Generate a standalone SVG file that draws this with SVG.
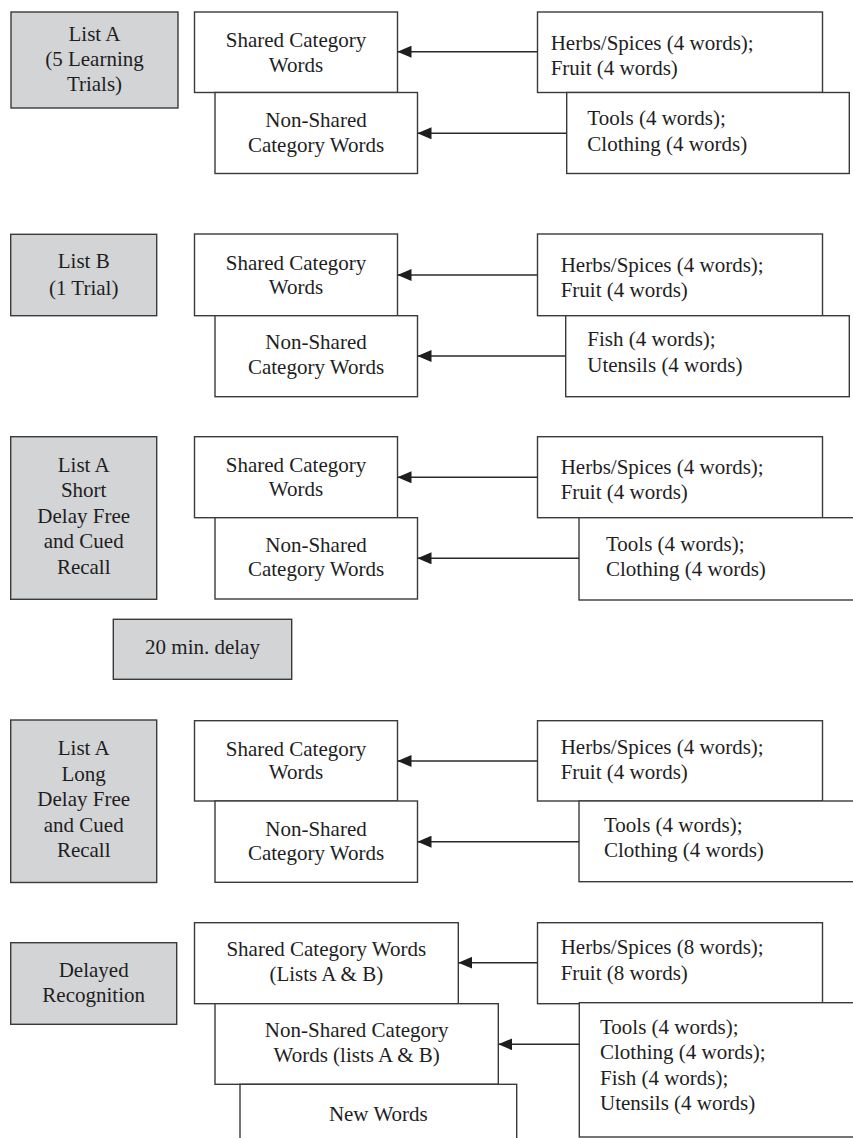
<svg xmlns="http://www.w3.org/2000/svg" width="853" height="1138" viewBox="0 0 853 1138">
<style>
.bx{fill:#ffffff;stroke:#3a3a3a;stroke-width:1.4}
.gx{fill:#d3d4d6;stroke:#3a3a3a;stroke-width:1.4}
text{font-family:"Liberation Serif","Times New Roman",serif;font-size:21px;fill:#1e1e1e}
.c{text-anchor:middle}
.ar{stroke:#2a2a2a;stroke-width:1.5;fill:none;marker-end:url(#ah)}
</style>
<defs>
<marker id="ah" viewBox="0 0 14 12" refX="14" refY="6" markerWidth="14" markerHeight="12" markerUnits="userSpaceOnUse" orient="auto">
<path d="M0,0 L14,6 L0,12 z" fill="#1e1e1e"/>
</marker>
</defs>
<rect width="853" height="1138" fill="#ffffff"/>

<!-- Row 1 -->
<g id="listA">
<rect class="gx" x="11" y="12" width="167" height="96"/>
<text class="c" x="94.5" y="41">List A</text>
<text class="c" x="94.5" y="66">(5 Learning</text>
<text class="c" x="94.5" y="91">Trials)</text>
</g>
<g id="r1-shared">
<rect class="bx" x="194.5" y="12" width="203" height="80.5"/>
<text class="c" x="296" y="47">Shared Category</text>
<text class="c" x="296" y="72">Words</text>
</g>
<g id="r1-nonshared">
<rect class="bx" x="215" y="92.5" width="202.5" height="81"/>
<text class="c" x="316" y="127">Non-Shared</text>
<text class="c" x="316" y="152">Category Words</text>
</g>
<g id="r1-herbs">
<rect class="bx" x="537.5" y="12" width="285" height="80.5"/>
<text x="550.7" y="50">Herbs/Spices (4 words);</text>
<text x="550.7" y="75">Fruit (4 words)</text>
</g>
<g id="r1-tools">
<rect class="bx" x="566.7" y="92.5" width="282.6" height="81"/>
<text x="587.3" y="125">Tools (4 words);</text>
<text x="587.3" y="150.5">Clothing (4 words)</text>
</g>

<!-- Row 2 -->
<g id="listB">
<rect class="gx" x="10.7" y="234.3" width="146" height="81.4"/>
<text class="c" x="83.7" y="268.3">List B</text>
<text class="c" x="83.7" y="294.5">(1 Trial)</text>
</g>
<g id="r2-shared">
<rect class="bx" x="194.5" y="234" width="203" height="81.7"/>
<text class="c" x="296" y="270">Shared Category</text>
<text class="c" x="296" y="294">Words</text>
</g>
<g id="r2-nonshared">
<rect class="bx" x="215" y="315.7" width="202.5" height="81"/>
<text class="c" x="316" y="349">Non-Shared</text>
<text class="c" x="316" y="373.5">Category Words</text>
</g>
<g id="r2-herbs">
<rect class="bx" x="537.5" y="234" width="285" height="81.7"/>
<text x="560.7" y="271.5">Herbs/Spices (4 words);</text>
<text x="560.7" y="296.5">Fruit (4 words)</text>
</g>
<g id="r2-fish">
<rect class="bx" x="565.7" y="315.7" width="283.6" height="81"/>
<text x="587.3" y="345.5">Fish (4 words);</text>
<text x="587.3" y="371.5">Utensils (4 words)</text>
</g>

<!-- Row 3 -->
<g id="listA-short">
<rect class="gx" x="10.7" y="436.7" width="146" height="162.6"/>
<text class="c" x="83.7" y="471.7">List A</text>
<text class="c" x="83.7" y="497.3">Short</text>
<text class="c" x="83.7" y="523">Delay Free</text>
<text class="c" x="83.7" y="548.3">and Cued</text>
<text class="c" x="83.7" y="574">Recall</text>
</g>
<g id="r3-shared">
<rect class="bx" x="194.5" y="436.7" width="203" height="81"/>
<text class="c" x="296" y="472">Shared Category</text>
<text class="c" x="296" y="495.5">Words</text>
</g>
<g id="r3-nonshared">
<rect class="bx" x="215" y="517.7" width="202.5" height="81.3"/>
<text class="c" x="316" y="551.5">Non-Shared</text>
<text class="c" x="316" y="576">Category Words</text>
</g>
<g id="r3-herbs">
<rect class="bx" x="537.5" y="436.7" width="285" height="81"/>
<text x="560.7" y="473.5">Herbs/Spices (4 words);</text>
<text x="560.7" y="498.5">Fruit (4 words)</text>
</g>
<g id="r3-tools">
<rect class="bx" x="579" y="517.7" width="290" height="82.3"/>
<text x="606" y="550.5">Tools (4 words);</text>
<text x="606" y="575.5">Clothing (4 words)</text>
</g>
<g id="delay">
<rect class="gx" x="113.3" y="619.3" width="178.4" height="60"/>
<text class="c" x="202.5" y="654">20 min. delay</text>
</g>

<!-- Row 4 -->
<g id="listA-long">
<rect class="gx" x="10.7" y="720" width="146" height="162.5"/>
<text class="c" x="83.7" y="755">List A</text>
<text class="c" x="83.7" y="780.5">Long</text>
<text class="c" x="83.7" y="806.3">Delay Free</text>
<text class="c" x="83.7" y="831.7">and Cued</text>
<text class="c" x="83.7" y="857">Recall</text>
</g>
<g id="r4-shared">
<rect class="bx" x="194.5" y="720.7" width="203" height="80.3"/>
<text class="c" x="296" y="755.5">Shared Category</text>
<text class="c" x="296" y="778.5">Words</text>
</g>
<g id="r4-nonshared">
<rect class="bx" x="215" y="801" width="202.5" height="81.3"/>
<text class="c" x="316" y="835.5">Non-Shared</text>
<text class="c" x="316" y="860">Category Words</text>
</g>
<g id="r4-herbs">
<rect class="bx" x="537.5" y="720.7" width="285" height="80.3"/>
<text x="560.7" y="753.5">Herbs/Spices (4 words);</text>
<text x="560.7" y="778.5">Fruit (4 words)</text>
</g>
<g id="r4-tools">
<rect class="bx" x="579" y="801" width="290" height="80.7"/>
<text x="604" y="832">Tools (4 words);</text>
<text x="604" y="857">Clothing (4 words)</text>
</g>

<!-- Row 5 -->
<g id="recog">
<rect class="gx" x="10.7" y="942.7" width="166" height="81.6"/>
<text class="c" x="93.7" y="977">Delayed</text>
<text class="c" x="93.7" y="1002">Recognition</text>
</g>
<g id="r5-shared">
<rect class="bx" x="194.5" y="922.7" width="263.8" height="81"/>
<text class="c" x="326.3" y="955.5">Shared Category Words</text>
<text class="c" x="326.3" y="980.5">(Lists A &amp; B)</text>
</g>
<g id="r5-nonshared">
<rect class="bx" x="215" y="1003.7" width="283.3" height="80.6"/>
<text class="c" x="356.7" y="1037">Non-Shared Category</text>
<text class="c" x="356.7" y="1062">Words (lists A &amp; B)</text>
</g>
<g id="r5-new">
<rect class="bx" x="240" y="1084.3" width="276.7" height="70"/>
<text class="c" x="378.3" y="1120.5">New Words</text>
</g>
<g id="r5-herbs">
<rect class="bx" x="537.5" y="922.7" width="285" height="81"/>
<text x="560.7" y="953.5">Herbs/Spices (8 words);</text>
<text x="560.7" y="980">Fruit (8 words)</text>
</g>
<g id="r5-tools">
<rect class="bx" x="579.3" y="1002.7" width="290" height="134.3"/>
<text x="600" y="1033.5">Tools (4 words);</text>
<text x="600" y="1059">Clothing (4 words);</text>
<text x="600" y="1084.5">Fish (4 words);</text>
<text x="600" y="1110">Utensils (4 words)</text>
</g>

<g id="connectors">
<path class="ar" d="M537.5,51.7 H397.5"/>
<path class="ar" d="M566.7,133.3 H417.5"/>
<path class="ar" d="M537.5,275 H397.5"/>
<path class="ar" d="M565.7,356 H417.5"/>
<path class="ar" d="M537.5,477.3 H397.5"/>
<path class="ar" d="M579,558.3 H417.5"/>
<path class="ar" d="M537.5,761 H397.5"/>
<path class="ar" d="M579,841.7 H417.5"/>
<path class="ar" d="M537.5,962.7 H458.3"/>
<path class="ar" d="M579.3,1044.3 H498.3"/>
</g>
</svg>
